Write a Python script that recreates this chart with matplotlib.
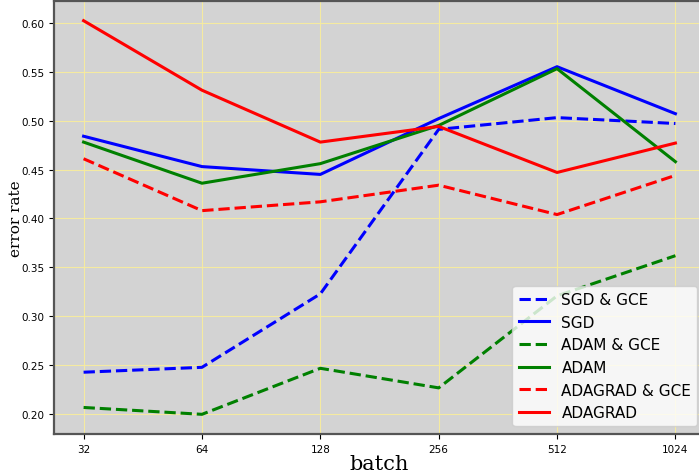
import matplotlib
matplotlib.use("Agg")
import matplotlib.pyplot as plt

# batch sizes on the x axis
batches = ["32", "64", "128", "256", "512", "1024"]

# error rate per optimiser
sgd_gce = [0.243, 0.248, 0.323, 0.491, 0.503, 0.497]
sgd = [0.484, 0.453, 0.445, 0.502, 0.555, 0.507]
adam_gce = [0.207, 0.200, 0.247, 0.227, 0.321, 0.362]
adam = [0.478, 0.436, 0.456, 0.495, 0.553, 0.458]
adagrad_gce = [0.461, 0.408, 0.417, 0.434, 0.404, 0.444]
adagrad = [0.602, 0.531, 0.478, 0.494, 0.447, 0.477]

x = range(len(batches))

fig = plt.figure(figsize=(6.99, 4.77), dpi=100)
ax = fig.add_axes([54 / 699, 42 / 477, 651 / 699, 433 / 477])
ax.set_facecolor("lightgray")

ax.plot(x, sgd_gce, "b--", lw=2.2, label="SGD & GCE")
ax.plot(x, sgd, "b-", lw=2.2, label="SGD")
ax.plot(x, adam_gce, "g--", lw=2.2, label="ADAM & GCE")
ax.plot(x, adam, "g-", lw=2.2, label="ADAM")
ax.plot(x, adagrad_gce, "r--", lw=2.2, label="ADAGRAD & GCE")
ax.plot(x, adagrad, "r-", lw=2.2, label="ADAGRAD")

ax.set_xticks(list(x))
ax.set_xticklabels(batches, fontsize=7.5)
ax.tick_params(axis="y", labelsize=7.5)
ax.grid(True, color="#f5eaa0", lw=0.8)
ax.set_axisbelow(True)
for s in ax.spines.values():
    s.set_color("#555555")
    s.set_linewidth(1.6)

ax.set_xlabel("batch", family="serif", fontsize=15, labelpad=0)
ax.set_ylabel("error rate", family="serif", fontsize=11, labelpad=-1)
ax.legend(loc="lower right", fontsize=11)

fig.savefig("out.png", dpi=100)
